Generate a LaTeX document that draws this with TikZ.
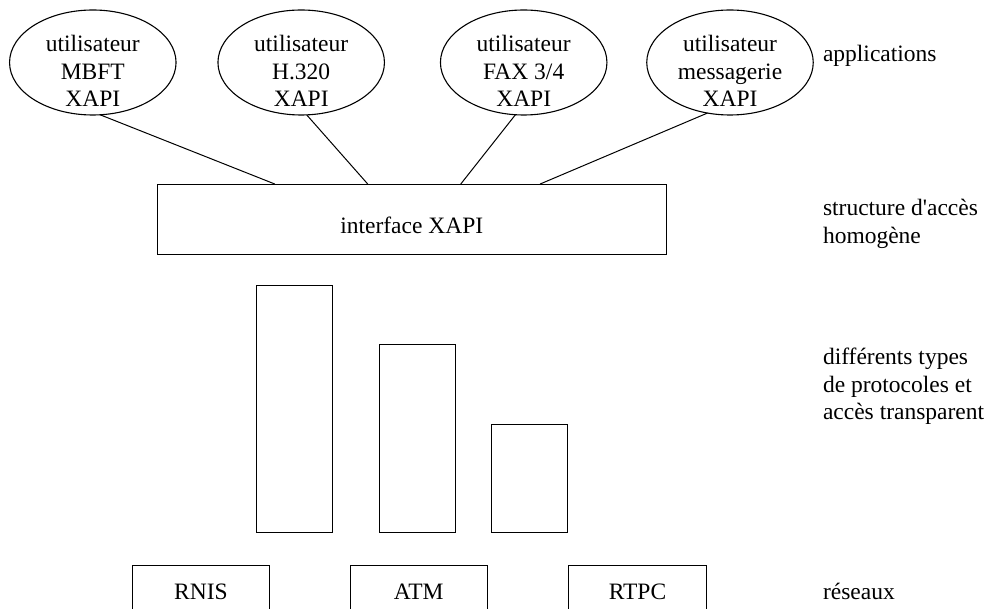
\documentclass[tikz,border=0pt]{standalone}
\usepackage{fontspec}
\setmainfont{Liberation Serif}
\usetikzlibrary{shapes.geometric,calc}
\begin{document}
\begin{tikzpicture}[x=1pt,y=-1pt,
  every node/.style={font=\fontsize{23.5}{27.5}\selectfont, inner sep=0pt, outer sep=0pt},
  app/.style={draw, ellipse, line width=1.1pt, minimum width=166.5pt, minimum height=105pt},
  blockbox/.style={draw, rectangle, line width=1pt},
  netbox/.style={blockbox, minimum width=137.4pt, minimum height=80pt},
  barbox/.style={blockbox, minimum width=76pt},
  apptext/.style={anchor=north, align=center},
  caption/.style={align=left},
  link/.style={line width=1pt}]
\useasboundingbox (0,0) rectangle (989,609);
\clip (0,0) rectangle (989,609);

% user applications
\node[app] (e1) at (92.8,62.5) {};
\node[app] (e2) at (301.2,62.5) {};
\node[app] (e3) at (523.7,62.5) {};
\node[app] (e4) at (730,62.5) {};
\node[apptext] (t1) at ($(e1.center)+(0,-26.9)$) {utilisateur\\MBFT\\XAPI};
\node[apptext] (t2) at ($(e2.center)+(0,-26.9)$) {utilisateur\\H.320\\XAPI};
\node[apptext] (t3) at ($(e3.center)+(0,-26.9)$) {utilisateur\\FAX 3/4\\XAPI};
\node[apptext] (t4) at ($(e4.center)+(0,-26.9)$) {utilisateur\\messagerie\\XAPI};

% common access layer
\node[blockbox, minimum width=508.7pt, minimum height=70.3pt] (xapi) at (411.7,219.2) {};
\node[anchor=base] (xapitext) at (411.7,234) {interface XAPI};

\draw[link] (e1.-82)    -- ($(xapi.north west)!0.231!(xapi.north east)$);
\draw[link] (e2.-84)    -- ($(xapi.north west)!0.4136!(xapi.north east)$);
\draw[link] (e3.-99.4)  -- ($(xapi.north west)!0.5964!(xapi.north east)$);
\draw[link] (e4.-114.8) -- ($(xapi.north west)!0.7523!(xapi.north east)$);

% protocol stacks
\node[barbox, minimum height=247pt] (p1) at (294.2,409.5) {};
\node[barbox, minimum height=188pt] (p2) at (417.3,439) {};
\node[barbox, minimum height=108pt] (p3) at (529.3,479) {};

% networks
\node[netbox] (rnis) at (201,606) {};
\node[netbox] (atm)  at (418.7,606) {};
\node[netbox] (rtpc) at (637.5,606) {};
\node[anchor=base] (rnist) at (201,599.3) {RNIS};
\node[anchor=base] (atmt)  at (418.7,599.3) {ATM};
\node[anchor=base] (rtpct) at (637.5,599.3) {RTPC};

% layer captions
\node[caption, anchor=base west] (c1) at (823,61.7) {applications};
\node[caption, anchor=north west] (c2) at (823,199.5) {structure d\textquotesingle accès\\homogène};
\node[caption, anchor=north west] (c3) at (823,348.3) {différents types\\de protocoles et\\accès transparent};
\node[caption, anchor=base west] (c4) at (823,599.3) {réseaux};
\end{tikzpicture}
\end{document}
